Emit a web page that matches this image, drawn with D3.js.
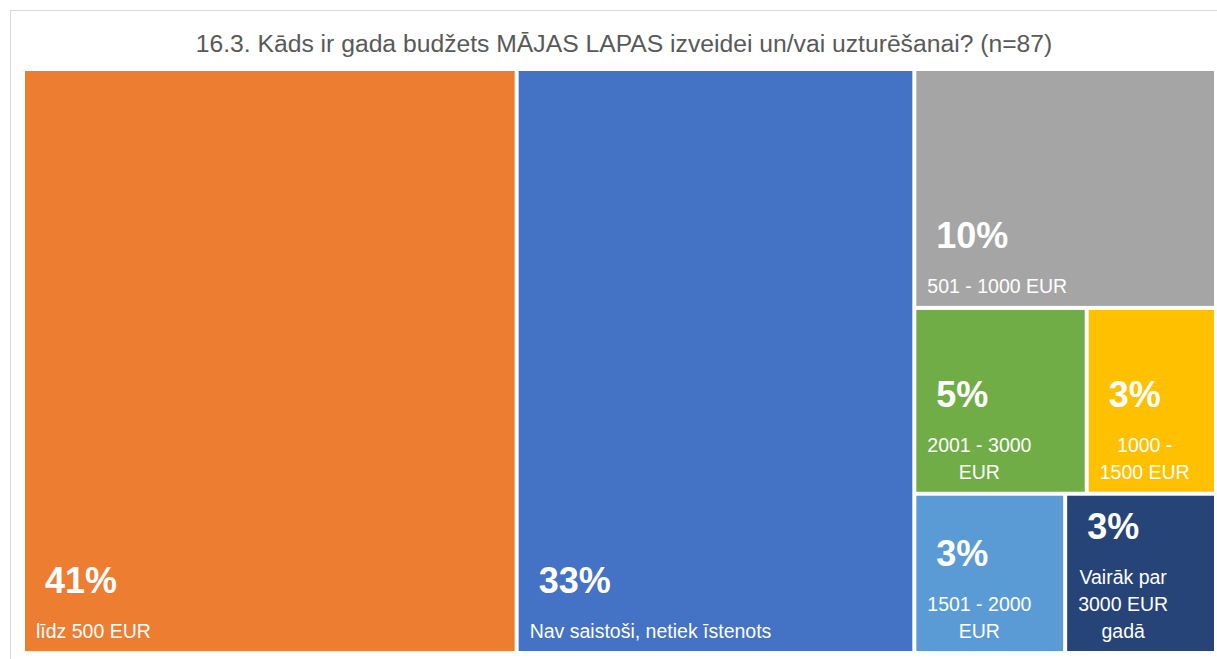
<!DOCTYPE html>
<html>
<head>
<meta charset="utf-8">
<script src="https://cdn.jsdelivr.net/npm/d3@7"></script>
<style>
    body { margin: 0; background: #fff; }
</style>
</head>
<body>
<svg width="1217" height="659"></svg>
<script>
// DATA
var categories = ["līdz 500 EUR", "Nav saistoši, netiek īstenots", "501 - 1000 EUR",
    "2001 - 3000 EUR", "1000 - 1500 EUR", "1501 - 2000 EUR", "Vairāk par 3000 EUR gadā"];
var counts = [36, 29, 9, 4, 3, 3, 3];
var colors = ["#ED7D31", "#4472C4", "#A5A5A5", "#70AD47", "#FFC000", "#5B9BD5", "#264478"];
var title = "16.3. Kāds ir gada budžets MĀJAS LAPAS izveidei un/vai uzturēšanai? (n=87)";

var svg = d3.select("svg"),
    mLeft = 25, mTop = 71, mRight = 1214, mBottom = 651;

// chart frame
svg.append("rect")
    .attr("x", 10.5)
    .attr("y", 10.5)
    .attr("width", 1230)
    .attr("height", 680)
    .attr("fill", "#fff")
    .attr("stroke", "#d9d9d9");

svg.append("text")
    .attr("x", 624)
    .attr("y", 52)
    .attr("text-anchor", "middle")
    .attr("font-family", "Liberation Sans, Arial, sans-serif")
    .attr("font-size", "24.7px")
    .attr("fill", "#595959")
    .text(title);

var total = d3.sum(counts);
var root = d3.hierarchy({
        children: categories.map(function (c, i) {
            return { name: c, value: counts[i], color: colors[i] };
        })
    })
    .sum(function (d) { return d.value || 0; })
    .sort(function (a, b) { return b.value - a.value; });

d3.treemap()
    .tile(d3.treemapSquarify.ratio(1))
    .size([mRight - mLeft, mBottom - mTop])
    .paddingInner(4)(root);

var g = svg.append("g")
    .attr("transform", "translate(" + mLeft + "," + mTop + ")");

var cell = g.selectAll(".cell")
    .data(root.leaves())
    .enter().append("g")
    .attr("class", "cell")
    .attr("transform", function (d) { return "translate(" + d.x0 + "," + d.y0 + ")"; });

cell.append("rect")
    .attr("width", function (d) { return d.x1 - d.x0; })
    .attr("height", function (d) { return d.y1 - d.y0; })
    .attr("fill", function (d) { return d.data.color; });

var font = "Liberation Sans, Arial, sans-serif",
    catSize = 19.5, lineH = 27;

cell.each(function (d) {
    var el = d3.select(this),
        w = d.x1 - d.x0,
        h = d.y1 - d.y0,
        maxW = w - 24;

    // word wrap using measured widths
    var probe = el.append("text")
        .attr("font-family", font)
        .attr("font-size", catSize + "px");
    var words = d.data.name.split(" "), lines = [], cur = "";
    words.forEach(function (wd) {
        var test = cur ? cur + " " + wd : wd;
        probe.text(test);
        if (cur && probe.node().getComputedTextLength() > maxW) {
            lines.push(cur);
            cur = wd;
        } else {
            cur = test;
        }
    });
    lines.push(cur);
    var widths = lines.map(function (l) {
        probe.text(l);
        return probe.node().getComputedTextLength();
    });
    probe.remove();

    var blockW = d3.max(widths),
        cx = 11 + blockW / 2,
        lastY = h - 13;

    lines.forEach(function (l, i) {
        el.append("text")
            .attr("x", cx)
            .attr("y", lastY - (lines.length - 1 - i) * lineH)
            .attr("text-anchor", "middle")
            .attr("font-family", font)
            .attr("font-size", catSize + "px")
            .attr("fill", "#fff")
            .text(l);
    });

    el.append("text")
        .attr("x", 20)
        .attr("y", lastY - (lines.length - 1) * lineH - 45)
        .attr("font-family", font)
        .attr("font-size", "36px")
        .attr("font-weight", "bold")
        .attr("fill", "#fff")
        .text(Math.round(d.value / total * 100) + "%");
});
</script>
</body>
</html>
